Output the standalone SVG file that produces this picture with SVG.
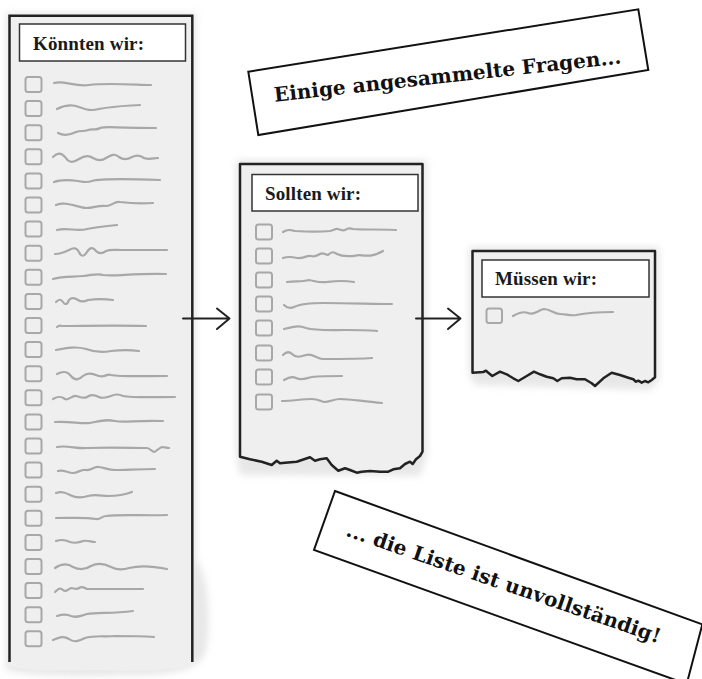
<svg xmlns="http://www.w3.org/2000/svg" width="702" height="679" viewBox="0 0 702 679">
<style>
.sheet{fill:#efefef;stroke:#222;stroke-width:2.5;stroke-linejoin:round}
.edge{fill:none;stroke:#222;stroke-width:2.5}
.hdr{fill:#fff;stroke:#333;stroke-width:1.5}
.ht{font-family:"Liberation Serif","Times New Roman",serif;font-weight:bold;font-size:19px;fill:#1a1a1a}
.cb{fill:none;stroke:#a8a8a8;stroke-width:2;rx:2.5}
.sq{fill:none;stroke:#a8a8a8;stroke-width:2.2;stroke-linecap:round;stroke-linejoin:round}
.lab{fill:#fff;stroke:#111;stroke-width:2}
.lt{font-family:"DejaVu Serif","Liberation Serif",serif;font-weight:bold;font-size:20px;fill:#111}
.shadow{fill:#d4d4d4;opacity:.55;filter:url(#blur)}
.arr{fill:none;stroke:#222;stroke-width:2;stroke-linecap:round;stroke-linejoin:round}
</style>
<defs>
<filter id="blur" x="-20%" y="-20%" width="140%" height="140%"><feGaussianBlur stdDeviation="3.5"/></filter>
</defs>
<rect width="702" height="679" fill="#fff"/>

<g id="list-koennten">
<path class="shadow" d="M6,13 H196 V560 C206,570 212,610 206,650 C200,672 170,676 120,675 C80,677 30,676 6,670 Z"/>
<path d="M9.5,15.7 H192.3 V662 C190,668 180,670 170,668 C160,671 140,670 120,671 C100,669 80,671 60,670 C40,672 20,669 9.5,666 Z" fill="#efefef"/>
<path class="edge" d="M9.5,662 V15.7 H192.3 V662"/>
<rect class="hdr" x="19.5" y="24" width="166" height="37"/>
<text class="ht" x="33" y="50" textLength="111">Könnten wir:</text>
<rect class="cb" x="25.5" y="77" width="16" height="15"/>
<rect class="cb" x="25.5" y="101.1" width="16" height="15"/>
<rect class="cb" x="25.5" y="125.2" width="16" height="15"/>
<rect class="cb" x="25.5" y="149.3" width="16" height="15"/>
<rect class="cb" x="25.5" y="173.4" width="16" height="15"/>
<rect class="cb" x="25.5" y="197.5" width="16" height="15"/>
<rect class="cb" x="25.5" y="221.6" width="16" height="15"/>
<rect class="cb" x="25.5" y="245.7" width="16" height="15"/>
<rect class="cb" x="25.5" y="269.8" width="16" height="15"/>
<rect class="cb" x="25.5" y="293.9" width="16" height="15"/>
<rect class="cb" x="25.5" y="318" width="16" height="15"/>
<rect class="cb" x="25.5" y="342.1" width="16" height="15"/>
<rect class="cb" x="25.5" y="366.2" width="16" height="15"/>
<rect class="cb" x="25.5" y="390.3" width="16" height="15"/>
<rect class="cb" x="25.5" y="414.4" width="16" height="15"/>
<rect class="cb" x="25.5" y="438.5" width="16" height="15"/>
<rect class="cb" x="25.5" y="462.6" width="16" height="15"/>
<rect class="cb" x="25.5" y="486.7" width="16" height="15"/>
<rect class="cb" x="25.5" y="510.8" width="16" height="15"/>
<rect class="cb" x="25.5" y="534.9" width="16" height="15"/>
<rect class="cb" x="25.5" y="559" width="16" height="15"/>
<rect class="cb" x="25.5" y="583.1" width="16" height="15"/>
<rect class="cb" x="25.5" y="607.2" width="16" height="15"/>
<rect class="cb" x="25.5" y="631.3" width="16" height="15"/>
<path class="sq" d="M54,83 c10,-3 20,4 35,2 c15,-2 30,-1 62,0"/>
<path class="sq" d="M57,109 c8,-4 14,-5 22,-2 c8,3 12,4 20,2 c15,-3 25,-3 41,-4"/>
<path class="sq" d="M58,133 c6,3 12,2 18,-1 c5,-2 8,0 12,-2 c5,-2 8,1 12,-2 c6,-2 12,0 56,0"/>
<path class="sq" d="M53,157 c4,-4 8,-5 12,0 c4,6 8,6 14,2 c6,-4 10,-4 14,-1 c5,3 9,3 13,0 c5,-3 9,-5 13,-1 c4,3 8,3 13,0 c4,-2 8,-2 12,1 c5,2 10,0 14,0"/>
<path class="sq" d="M54,182 c8,-3 16,-2 24,-1 c6,1 8,2 14,0 c10,-3 40,-2 68,-1"/>
<path class="sq" d="M56,205 c10,-4 20,2 30,3 c8,0 12,-3 20,-2 c6,0 8,-5 14,-4 c8,1 20,2 33,1"/>
<path class="sq" d="M57,230 c10,-3 20,2 30,-1 c10,-2 20,-3 30,-4"/>
<path class="sq" d="M55,254 c6,0 10,-2 14,-4 c5,-3 8,-2 10,2 c2,5 5,5 8,0 c3,-5 6,-5 9,-1 c3,3 6,3 10,0 c5,-2 10,-1 15,-1 c20,0 30,0 46,0"/>
<path class="sq" d="M53,279 c10,-3 20,-2 30,-3 c10,-1 15,-3 20,-1 c10,2 30,-2 63,-1"/>
<path class="sq" d="M56,302 c3,-3 5,-3 7,0 c2,3 4,3 6,-2 c3,-3 6,-2 9,0 c3,2 6,2 10,0 c8,-1 17,-1 25,0"/>
<path class="sq" d="M57,327 c2,-2 3,-2 5,-1 c20,0 50,-1 84,0"/>
<path class="sq" d="M56,350 c10,-2 20,-4 30,-1 c8,3 15,4 25,2 c10,-1 20,-1 28,0"/>
<path class="sq" d="M57,374 c6,-3 10,-3 14,2 c4,5 8,4 12,0 c5,-4 10,-2 16,0 c6,2 8,-3 12,-1 c10,2 30,1 56,1"/>
<path class="sq" d="M53,399 c5,-3 8,-3 12,0 c4,2 7,-4 11,-3 c4,1 7,3 11,1 c4,-3 8,-2 12,0 c4,2 8,0 12,-1 c4,-2 8,-2 12,0 c10,2 35,1 52,1"/>
<path class="sq" d="M55,422 c15,-1 25,2 35,1 c10,-2 15,-4 25,-2 c10,2 20,-1 48,0"/>
<path class="sq" d="M57,447 c10,-2 20,2 30,1 c25,-1 45,0 60,0 c3,0 5,4 7,4 c3,-1 5,-4 8,-5 c3,0 5,1 7,1"/>
<path class="sq" d="M58,471 c5,-2 10,2 15,2 c5,0 8,-4 13,-3 c5,1 8,-4 13,-3 c6,1 10,3 16,3 c10,0 25,-1 40,-1"/>
<path class="sq" d="M56,493 c6,-2 10,0 14,2 c6,3 12,3 18,1 c8,-2 14,0 20,0 c8,0 16,-1 24,-4"/>
<path class="sq" d="M56,518 c15,0 30,-1 40,1 c4,1 6,-3 10,-3 c15,-2 40,0 61,-1"/>
<path class="sq" d="M56,541 c6,-2 10,-1 14,1 c6,2 10,0 13,-1 c5,-1 8,1 12,1"/>
<path class="sq" d="M55,568 c6,-4 12,-5 18,-1 c6,3 12,3 18,-1 c6,-3 14,-2 20,1 c6,3 12,3 18,1 c8,-2 23,-2 38,1"/>
<path class="sq" d="M55,592 c3,-3 5,-5 8,-2 c3,3 5,-1 8,-2 c3,0 5,2 8,0 c3,-2 5,-1 8,1 c15,0 30,0 56,0"/>
<path class="sq" d="M57,616 c6,-2 10,-2 14,0 c6,2 10,0 16,-2 c10,-2 25,0 46,-3"/>
<path class="sq" d="M53,640 c5,-2 10,-5 16,-1 c5,4 10,2 16,-1 c10,-3 20,-1 30,-2 c15,0 25,0 39,1"/>
</g>

<g id="list-sollten">
<path class="shadow" d="M236,160 H427 V455 L420,476 L240,475 L236,455 Z"/>
<path class="sheet" d="M240,164 H422.5 V451.7 L420,456 L416,459.3 L412.7,464 L410,461.7 L405,464 L400,468.3 L393.3,469.3 L388.3,471.7 L380,471.7 L370,471 L361.7,471.7 L356.7,472.7 L350,470 L345,468.3 L338.3,470.7 L331.7,465 L326.7,458.3 L320,459.3 L315,460.7 L310,457.3 L296.7,461.7 L285,462.7 L280,463.3 L276.7,460.7 L271.7,465 L261.7,461.7 L250,459.3 L240,456.7 Z"/>
<rect class="hdr" x="252" y="174.5" width="166" height="36.5"/>
<text class="ht" x="265" y="200" textLength="96">Sollten wir:</text>
<rect class="cb" x="256" y="224.5" width="16" height="15"/>
<rect class="cb" x="256" y="248.5" width="16" height="15"/>
<rect class="cb" x="256" y="272.5" width="16" height="15"/>
<rect class="cb" x="256" y="296.5" width="16" height="15"/>
<rect class="cb" x="256" y="320.5" width="16" height="15"/>
<rect class="cb" x="256" y="345.5" width="16" height="15"/>
<rect class="cb" x="256" y="369.5" width="16" height="15"/>
<rect class="cb" x="256" y="394.5" width="16" height="15"/>
<path class="sq" d="M283,232 c5,-3 8,-2 12,-1 c15,1 25,1 35,0 c4,-1 6,-3 8,-2 c3,1 5,2 7,1 c3,-2 5,-2 8,-1 c10,1 30,0 43,1"/>
<path class="sq" d="M283,258 c6,-2 10,-1 14,0 c6,1 10,-3 14,-2 c4,1 6,0 9,-2 c3,-2 5,1 8,1 c4,-4 6,-3 9,-1 c8,4 16,2 22,1 c8,1 14,2 24,-4"/>
<path class="sq" d="M287,282 c10,-1 15,0 22,-2 c6,1 10,3 18,2 c8,-1 15,-2 27,0"/>
<path class="sq" d="M284,305 c3,3 6,4 10,2 c6,-3 15,-4 30,-4 c25,0 50,1 68,1"/>
<path class="sq" d="M284,329 c8,-2 14,-4 22,-1 c10,3 25,2 40,2 c15,0 25,0 31,1"/>
<path class="sq" d="M283,355 c3,-3 6,-4 9,-1 c4,4 8,3 14,1 c6,-2 10,3 16,4 c20,0 38,0 50,-1"/>
<path class="sq" d="M284,380 c5,-3 8,-4 12,-2 c6,3 10,0 16,-1 c10,-1 20,-1 30,-1"/>
<path class="sq" d="M282,401 c10,0 20,-2 30,-2 c6,0 8,2 12,3 c6,0 10,-3 16,-3 c10,0 20,2 42,4"/>
</g>

<g id="list-muessen">
<path class="shadow" d="M469,247 H659 V380 L650,390 L475,385 L469,375 Z"/>
<path class="sheet" d="M472.5,251 H655 V377.3 L651.7,380 L648.3,382.3 L645,381 L641.7,382.7 L638.3,380.7 L636,381.7 L633.3,379.3 L628.3,377.7 L620,375 L611.7,372.7 L603.3,378.3 L595,386 L591.7,383.3 L585,379.3 L576.7,379.3 L570,377.7 L561.7,378.3 L557.3,381 L553.3,378.3 L546.7,376.7 L540,374.3 L534,371.7 L526.7,376 L518.3,381 L513.3,378.3 L506.7,374.3 L500,371.7 L492.3,376 L488.3,372.7 L486,370.7 L483.3,372 L472.5,372.7 Z"/>
<rect class="hdr" x="482" y="260" width="167" height="37"/>
<text class="ht" x="495" y="285" textLength="102">Müssen wir:</text>
<rect class="cb" x="486.5" y="308.5" width="15.5" height="14.5"/>
<path class="sq" d="M513,316 c5,-3 10,-5 15,-3 c6,3 10,-3 16,-4 c6,0 10,5 16,5 c6,0 10,2 16,1 c10,-2 20,-3 37,-3"/>
</g>

<g id="label-top">
<polygon class="lab" points="248.3,71.7 638.3,9.3 648.3,70 258.3,135"/>
<text class="lt" x="448.3" y="82.5" text-anchor="middle" textLength="349" transform="rotate(-6.3 448.3 82.5)">Einige angesammelte Fragen...</text>
</g>

<g id="label-bottom">
<polygon class="lab" points="335,491 702.3,624.4 686.7,684 314,550"/>
<text class="lt" x="501.5" y="589.5" text-anchor="middle" textLength="331" transform="rotate(19 501.5 589.5)">... die Liste ist unvollständig!</text>
</g>

<g id="connectors">
<path class="arr" d="M183,318.5 H229.5 M217,308.5 L229.5,318.5 L217,329"/>
<path class="arr" d="M416,318.5 H460.5 M448,308.5 L460.5,318.5 L448,329"/>
</g>
</svg>
